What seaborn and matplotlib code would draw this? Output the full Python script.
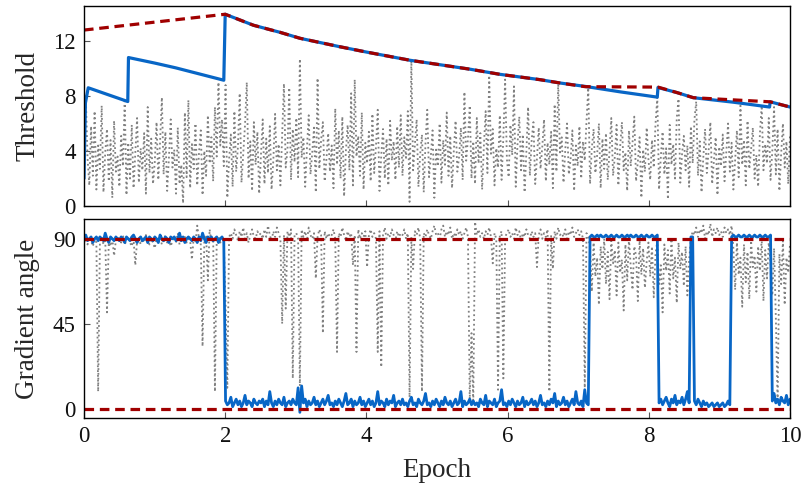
import numpy as np
import pandas as pd
import matplotlib
matplotlib.use("Agg")
import matplotlib.pyplot as plt
import seaborn as sns

# ---------------- data ----------------
# Top panel: threshold curves (epoch, value)
blue_thr_epoch = [0.0, 0.02, 0.06, 0.62, 0.63, 1.0, 1.3, 1.98, 2.0, 2.4, 2.78, 3.06, 3.63, 4.0,
                  4.62, 5.47, 5.89, 6.46, 6.74, 7.1, 7.6, 8.12, 8.13, 8.4, 8.63, 9.2, 9.71, 9.72, 10.0]
blue_thr_value = [2.0, 7.5, 8.6, 7.6, 10.8, 10.4, 10.05, 9.15, 13.95, 13.15, 12.63, 12.2, 11.58, 11.2,
                  10.6, 9.95, 9.58, 9.19, 8.95, 8.7, 8.3, 7.92, 8.62, 8.25, 7.88, 7.55, 7.2, 7.58, 7.2]

red_thr_epoch = [0.0, 2.0, 2.4, 2.78, 3.06, 3.63, 4.0, 4.62, 5.47, 5.89, 6.46, 6.74, 7.1,
                 8.13, 8.4, 8.63, 9.2, 9.72, 10.0]
red_thr_value = [12.8, 13.95, 13.15, 12.63, 12.2, 11.58, 11.2, 10.6, 9.95, 9.58, 9.19, 8.95, 8.68,
                 8.65, 8.25, 7.88, 7.72, 7.58, 7.2]

# Top panel: noisy per-step gradient norm (gray dotted), sampled evenly over 0..10 epochs
gray_top = [
    2.0, 8.1, 3.5, 1.5, 5.8, 2.2, 6.9, 1.2, 4.4, 2.7, 7.3, 1.0, 3.9, 5.6, 1.8, 4.8, 0.6, 6.2, 2.5, 3.6,
    1.4, 5.1, 2.9, 7.8, 0.8, 4.6, 2.0, 5.9, 1.3, 3.8, 6.4, 1.7, 4.2, 2.6, 5.3, 0.9, 7.2, 2.4, 4.9, 1.6,
    3.2, 6.1, 1.9, 4.7, 7.9, 2.3, 5.4, 1.1, 3.5, 6.3, 2.8, 4.1, 0.9, 5.7, 1.6, 3.0, 0.2, 6.8, 2.1, 7.7,
    1.3, 4.5, 2.7, 6.0, 1.5, 3.9, 5.5, 0.8, 4.0, 2.2, 6.6, 3.1, 5.0, 1.8, 7.2, 3.6, 9.0, 4.4, 6.3, 2.9,
    8.8, 0.6, 3.4, 5.2, 1.4, 6.9, 2.5, 4.3, 8.2, 1.7, 3.8, 5.9, 9.0, 2.0, 4.7, 1.1, 6.1, 3.0, 5.4, 0.9,
    3.7, 6.3, 1.6, 4.9, 2.4, 5.8, 1.2, 3.3, 6.7, 2.6, 4.5, 1.5, 5.2, 8.9, 2.8, 4.1, 8.6, 1.9, 5.6, 3.2,
    6.4, 2.1, 10.7, 3.5, 5.0, 1.4, 4.2, 6.6, 2.3, 3.9, 5.7, 1.0, 9.3, 2.7, 4.8, 6.1, 1.8, 3.4, 5.3, 2.5,
    4.4, 1.3, 7.1, 3.0, 5.5, 2.0, 6.5, 0.7, 4.0, 5.9, 2.6, 8.2, 1.5, 9.2, 3.6, 5.1, 2.2, 6.8, 1.2, 4.6,
    3.1, 5.4, 1.8, 6.7, 2.4, 4.3, 7.0, 1.1, 3.7, 5.6, 2.0, 4.9, 1.5, 6.2, 3.3, 4.7, 1.9, 5.8, 2.8, 6.6,
    2.2, 5.0, 3.5, 6.9, 0.3, 10.7, 2.6, 4.4, 6.3, 1.4, 3.8, 5.2, 1.0, 4.6, 7.0, 2.1, 3.6, 5.5, 0.6, 4.1,
    2.9, 6.0, 1.7, 4.8, 3.0, 6.8, 2.2, 5.1, 1.3, 4.0, 6.2, 2.5, 3.6, 5.7, 1.9, 8.3, 3.3, 4.9, 7.3, 2.0,
    4.7, 1.6, 6.4, 3.1, 5.3, 1.2, 4.4, 6.9, 2.4, 9.5, 3.8, 5.6, 1.5, 4.2, 2.8, 6.6, 1.9, 5.0, 9.2, 3.4,
    2.1, 5.9, 3.7, 8.7, 1.4, 4.5, 6.5, 2.6, 5.2, 1.0, 3.9, 7.2, 2.2, 4.8, 6.1, 1.6, 3.5, 5.7, 2.7, 4.3,
    6.3, 1.8, 4.6, 3.0, 5.4, 1.3, 7.4, 2.5, 9.0, 3.9, 5.0, 1.7, 4.1, 6.0, 2.3, 3.4, 5.5, 1.1, 4.4, 2.9,
    5.8, 2.0, 4.7, 3.3, 6.2, 8.6, 1.6, 4.2, 5.6, 2.4, 3.7, 6.0, 1.3, 4.9, 2.7, 5.3, 1.9, 4.0, 6.4, 2.2,
    3.6, 5.9, 1.5, 4.3, 6.1, 2.6, 3.9, 1.1, 5.5, 2.9, 4.6, 6.5, 1.8, 3.2, 5.0, 0.6, 4.1, 2.5, 5.7, 3.4,
    1.9, 4.8, 2.8, 6.0, 7.9, 1.2, 3.6, 5.4, 2.3, 4.2, 0.5, 5.9, 3.0, 4.5, 2.0, 6.4, 7.8, 1.7, 3.8, 5.1,
    2.6, 4.4, 1.4, 5.8, 3.1, 6.3, 7.6, 2.2, 4.7, 1.0, 3.5, 5.6, 2.4, 4.0, 6.1, 1.6, 3.3, 5.0, 0.8, 4.3,
    2.9, 5.2, 1.8, 3.9, 6.0, 2.5, 4.6, 1.2, 3.4, 5.5, 2.1, 7.3, 3.0, 4.8, 1.5, 6.2, 2.7, 4.1, 5.7, 2.0,
    3.7, 1.4, 5.3, 7.3, 2.6, 4.5, 3.1, 6.4, 1.9, 4.0, 7.2, 2.3, 5.6, 1.1, 3.8, 6.0, 2.8, 4.7, 1.6, 5.1,
]

# Bottom panel: per-step gradient angle (gray dotted)
gray_angle = [
    88, 90, 87, 91, 89, 86, 90, 88, 9, 89, 91, 87, 90, 51, 88, 86, 90, 81, 89, 91,
    90, 88, 92, 87, 89, 91, 88, 86, 90, 76, 89, 91, 87, 90, 88, 92, 89, 87, 90, 88,
    85, 90, 88, 91, 87, 89, 92, 88, 90, 86, 89, 91, 88, 93, 87, 90, 89, 91, 88, 90,
    89, 79, 91, 88, 97, 90, 87, 33, 89, 92, 68, 95, 88, 90, 9, 89, 91, 88, 90, 89,
    55, 11, 91, 93, 90, 95, 92, 89, 94, 91, 96, 90, 93, 88, 92, 95, 91, 90, 94, 92,
    93, 90, 95, 91, 97, 92, 89, 94, 91, 96, 93, 90, 45, 92, 53, 94, 91, 95, 16, 92,
    93, 90, 12, 95, 91, 94, 89, 96, 92, 90, 93, 69, 91, 95, 92, 40, 94, 90, 93, 91,
    92, 95, 90, 30, 93, 91, 96, 92, 89, 94, 91, 93, 76, 92, 30, 95, 90, 93, 91, 94,
    75, 92, 95, 91, 93, 90, 30, 94, 22, 92, 96, 90, 93, 91, 95, 92, 89, 94, 91, 93,
    92, 95, 90, 93, 6, 91, 74, 94, 92, 96, 90, 9, 93, 91, 95, 92, 90, 94, 97, 92,
    93, 90, 95, 97, 91, 94, 92, 96, 90, 93, 91, 95, 92, 94, 90, 93, 96, 91, 5, 40,
    3, 99, 92, 95, 91, 93, 90, 94, 92, 96, 91, 77, 93, 90, 10, 92, 94, 16, 91, 93,
    95, 91, 93, 90, 96, 92, 94, 89, 93, 91, 95, 92, 90, 94, 91, 93, 75, 92, 95, 90,
    93, 91, 95, 9, 92, 74, 94, 90, 96, 92, 93, 91, 95, 90, 94, 92, 96, 91, 93, 95,
    92, 94, 90, 11, 93, 91, 85, 62, 88, 70, 80, 55, 86, 74, 90, 66, 83, 58, 89, 77,
    84, 60, 88, 72, 79, 52, 87, 68, 90, 75, 63, 86, 81, 57, 89, 71, 85, 64, 78, 88,
    70, 86, 59, 82, 89, 66, 76, 51, 87, 73, 84, 61, 90, 69, 80, 56, 88, 74, 83, 65,
    86, 60, 79, 90, 94, 92, 96, 91, 95, 93, 97, 90, 94, 92, 98, 91, 95, 93, 96, 92,
    94, 91, 96, 93, 95, 92, 97, 85, 63, 88, 71, 80, 54, 87, 67, 83, 58, 89, 75, 81,
    62, 86, 73, 90, 57, 84, 69, 88, 78, 60, 85, 48, 3, 82, 66, 89, 55, 80, 72, 87,
]

# Bottom panel: smoothed gradient angle (blue)
blue_angle = [
    90, 92, 89, 90, 91, 88, 90, 91, 89, 91, 90, 89, 93, 90, 88, 91, 90, 89, 91, 90,
    89, 91, 90, 88, 91, 90, 89, 91, 92, 90, 88, 90, 91, 89, 90, 91, 88, 91, 90, 89,
    91, 90, 88, 92, 90, 89, 91, 90, 88, 91, 90, 91, 89, 90, 93, 89, 91, 88, 90, 91,
    90, 89, 91, 90, 88, 91, 89, 93, 90, 88, 91, 90, 91, 89, 90, 91, 88, 90, 91, 89,
    4, 2, 3, 6, 1, 3, 5, 2, 4, 1, 3, 7, 2, 4, 3, 1, 5, 3, 2, 4,
    3, 5, 1, 4, 2, 9, 3, 1, 4, 2, 5, 3, 2, 6, 1, 3, 4, 2, 5, 3,
    2, 11, -2, 12, 3, 5, 1, 4, 2, 3, 6, 2, 4, 1, 3, 5, 2, 4, 7, 2,
    3, 1, 4, 2, 5, 3, 1, 4, 8, 2, 3, 5, 1, 4, 2, 3, 6, 2, 4, 1,
    3, 5, 2, 4, 1, 3, 9, 2, 4, 3, 1, 5, 2, 4, 3, 7, 1, 3, 4, 2,
    5, 2, 3, 1, 4, 6, 2, 3, 1, 5, 3, 2, 4, 8, 2, 3, 1, 4, 2, 5,
    3, 1, 4, 2, 6, 3, 2, 4, 1, 3, 5, 2, 3, 9, 1, 4, 2, 3, 5, 2,
    4, 2, 3, 1, 5, 3, 2, 7, 1, 4, 3, 2, 5, 1, 3, 4, 10, 2, 3, 1,
    4, 2, 5, 3, 1, 4, 2, 3, 6, 1, 4, 2, 3, 5, 2, 4, 1, 3, 7, 2,
    3, 1, 4, 2, 5, 3, 8, 1, 4, 2, 3, 6, 2, 4, 1, 3, 5, 2, 9, 3,
    2, 4, 1, 10, 3, 2, 91, 92, 91, 91, 92, 91, 92, 91, 91, 92, 91, 91, 92, 91,
    91, 92, 91, 91, 92, 91, 91, 92, 91, 92, 91, 91, 92, 91, 91, 92, 91, 91, 92, 91,
    91, 92, 91, 91, 92, 3, 5, 2, 4, 6, 3, 1, 5, 3, 7, 2, 4, 3, 6, 2,
    5, 9, 3, 91, 91, 4, 2, 5, 3, 1, 4, 2, 3, 1, 2, 3, 1, 2, 3, 1,
    2, 3, 1, 2, 4, 2, 91, 92, 91, 91, 92, 91, 91, 92, 91, 91, 92, 91, 91, 92,
    91, 91, 92, 91, 91, 92, 91, 91, 92, 4, 8, 3, 5, 2, 6, 4, 3, 7, 2, 5,
]

ref_angles = [0, 90]
thr_ticks = [0, 4, 8, 12]
angle_ticks = [0, 45, 90]
epoch_ticks = [0, 2, 4, 6, 8, 10]

# ---------------- style ----------------
sns.set_theme(style="ticks")
plt.rcParams["font.family"] = ["Liberation Serif", "DejaVu Serif"]

BLUE = "#0866c6"
RED = "#a00000"
GRAY = "#808080"

fig = plt.figure(figsize=(8.03, 4.84), dpi=100)
ax1 = fig.add_axes([84 / 803, 1 - 206 / 484, (790 - 84) / 803, (206 - 6) / 484])
ax2 = fig.add_axes([84 / 803, 1 - 418 / 484, (790 - 84) / 803, (418 - 219) / 484], sharex=ax1)

# ---- top panel ----
df_gt = pd.DataFrame({"epoch": np.linspace(0, 10, len(gray_top)), "v": gray_top})
sns.lineplot(data=df_gt, x="epoch", y="v", ax=ax1, color=GRAY, lw=1.3,
             linestyle=":", estimator=None, sort=False)
df_bt = pd.DataFrame({"epoch": blue_thr_epoch, "v": blue_thr_value})
sns.lineplot(data=df_bt, x="epoch", y="v", ax=ax1, color=BLUE, lw=2.3,
             estimator=None, sort=False)
df_rt = pd.DataFrame({"epoch": red_thr_epoch, "v": red_thr_value})
sns.lineplot(data=df_rt, x="epoch", y="v", ax=ax1, color=RED, lw=2.3,
             estimator=None, sort=False)
ax1.lines[-1].set_dashes((3.0, 1.8))

ax1.set_ylim(0, 14.55)
ax1.set_yticks(thr_ticks)
ax1.set_ylabel("Threshold", fontsize=19.5, labelpad=9)
ax1.set_xlabel("")
ax1.tick_params(axis="x", labelbottom=False)

# ---- bottom panel ----
df_ga = pd.DataFrame({"epoch": np.linspace(0, 10, len(gray_angle)), "v": gray_angle})
sns.lineplot(data=df_ga, x="epoch", y="v", ax=ax2, color=GRAY, lw=1.3,
             linestyle=":", estimator=None, sort=False)
df_ba = pd.DataFrame({"epoch": np.linspace(0, 10, len(blue_angle)), "v": blue_angle})
sns.lineplot(data=df_ba, x="epoch", y="v", ax=ax2, color=BLUE, lw=2.0,
             estimator=None, sort=False)
for a in ref_angles:
    ax2.axhline(a, color=RED, lw=2.3, dashes=(3.0, 1.8))

ax2.set_ylim(-5, 100.5)
ax2.set_yticks(angle_ticks)
ax2.set_ylabel("Gradient angle", fontsize=19.5, labelpad=9)
ax2.set_xlabel("Epoch", fontsize=19.5, labelpad=8)
ax2.set_xlim(0, 10)
ax2.set_xticks(epoch_ticks)

for ax in (ax1, ax2):
    ax.tick_params(direction="in", length=4, width=0.8, color="#555555",
                   labelsize=16.5, pad=6, labelcolor="#111111")
    for s in ax.spines.values():
        s.set_color("black")
        s.set_linewidth(1.0)
    ax.grid(False)

fig.savefig("out.png", dpi=100)
